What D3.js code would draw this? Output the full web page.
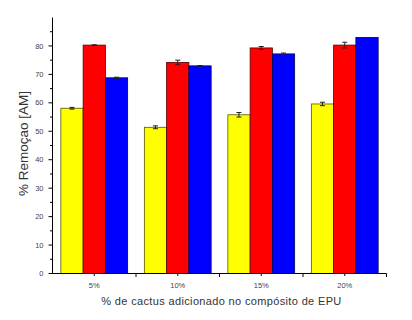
<!DOCTYPE html>
<html>
<head>
<meta charset="utf-8">
<script src="https://cdn.jsdelivr.net/npm/d3@7"></script>
<style>
  body { margin: 0; background: #fff; }
  text { font-family: Arial, "Liberation Sans", sans-serif; }
</style>
</head>
<body>
<svg id="chart" width="412" height="320"></svg>
<script>
const categories = ["5%", "10%", "15%", "20%"];
const seriesNames = ["a", "b", "c"];
const seriesColors = ["#ffff00", "#ff0000", "#0000ff"];
const seriesStroke = ["#555500", "#550000", "#000055"];
// values per category: [yellow, red, blue]
const values = [
    [58.1, 80.3, 68.8],
    [51.4, 74.2, 73.0],
    [55.8, 79.3, 77.2],
    [59.6, 80.3, 83.0]
];
const errors = [
    [0.3, 0.1, 0.2],
    [0.5, 0.8, 0.1],
    [0.8, 0.5, 0.3],
    [0.6, 1.0, 0]
];
const yTicks = [0, 10, 20, 30, 40, 50, 60, 70, 80];

const svg = d3.select("#chart");
const margin = { left: 52.5, right: 25.5, top: 17.5, bottom: 46.5 };
const w = 412 - margin.left - margin.right;
const h = 320 - margin.top - margin.bottom;
const g = svg.append("g").attr("transform", `translate(${margin.left},${margin.top})`);

const y = d3.scaleLinear().domain([0, 90]).range([h, 0]);
const x0 = d3.scaleBand().domain(categories).range([0, w]).paddingInner(0.2).paddingOuter(0.1);
const x1 = d3.scaleBand().domain(seriesNames).range([0, x0.bandwidth()]);
const xc = d3.scaleBand().domain(categories).range([0, w]);

// bars
const rows = values.flatMap((vals, i) => vals.map((v, j) => ({ cat: categories[i], s: j, v, e: errors[i][j] })));
g.selectAll(".bar")
    .data(rows)
    .join("rect")
    .attr("class", "bar")
    .attr("x", d => x0(d.cat) + x1(seriesNames[d.s]))
    .attr("y", d => y(d.v))
    .attr("width", x1.bandwidth())
    .attr("height", d => h - y(d.v))
    .attr("fill", d => seriesColors[d.s])
    .attr("stroke", d => seriesStroke[d.s])
    .attr("stroke-width", 0.8);

// error bars
const eb = g.selectAll(".err").data(rows.filter(d => d.e > 0)).join("g").attr("class", "err")
    .attr("stroke", "#222").attr("stroke-width", 1);
const cx = d => x0(d.cat) + x1(seriesNames[d.s]) + x1.bandwidth() / 2;
eb.append("line").attr("x1", cx).attr("x2", cx).attr("y1", d => y(d.v + d.e)).attr("y2", d => y(d.v - d.e));
eb.append("line").attr("x1", d => cx(d) - 2.5).attr("x2", d => cx(d) + 2.5).attr("y1", d => y(d.v + d.e)).attr("y2", d => y(d.v + d.e));
eb.append("line").attr("x1", d => cx(d) - 2.5).attr("x2", d => cx(d) + 2.5).attr("y1", d => y(d.v - d.e)).attr("y2", d => y(d.v - d.e));

// y axis
const yAxis = g.append("g").attr("class", "y-axis");
yAxis.append("line").attr("x1", 0).attr("x2", 0).attr("y1", y(90)).attr("y2", h).attr("stroke", "#000");
yAxis.selectAll(".major").data(yTicks).join("line")
    .attr("x1", -4).attr("x2", 0).attr("y1", d => y(d)).attr("y2", d => y(d)).attr("stroke", "#000");
yAxis.selectAll(".minor").data(yTicks.map(t => t + 5)).join("line")
    .attr("x1", -2.5).attr("x2", 0).attr("y1", d => y(d)).attr("y2", d => y(d)).attr("stroke", "#000");
yAxis.selectAll("text").data(yTicks).join("text")
    .attr("x", -9).attr("y", d => y(d)).attr("dy", "0.35em")
    .attr("text-anchor", "end").attr("font-size", 7.5).attr("fill", "#444")
    .text(d => d);

// x axis
const xAxis = g.append("g").attr("class", "x-axis").attr("transform", `translate(0,${h})`);
xAxis.append("line").attr("x1", 0).attr("x2", w).attr("stroke", "#000");
xAxis.selectAll(".bound").data(categories).join("line")
    .attr("x1", d => xc(d) + xc.bandwidth()).attr("x2", d => xc(d) + xc.bandwidth())
    .attr("y1", 0).attr("y2", 3.5).attr("stroke", "#000");
xAxis.selectAll(".center").data(categories).join("line")
    .attr("x1", d => xc(d) + xc.bandwidth() / 2).attr("x2", d => xc(d) + xc.bandwidth() / 2)
    .attr("y1", 0).attr("y2", 2.5).attr("stroke", "#000");
xAxis.selectAll("text").data(categories).join("text")
    .attr("x", d => xc(d) + xc.bandwidth() / 2).attr("y", 14.5)
    .attr("text-anchor", "middle").attr("font-size", 7.5).attr("fill", "#444")
    .text(d => d);

// axis titles
svg.append("text")
    .attr("transform", `translate(28,${margin.top + h / 2 - 2}) rotate(-90)`)
    .attr("text-anchor", "middle").attr("font-size", 13.5).attr("fill", "#333")
    .text("% Remoçao [AM]");
svg.append("text")
    .attr("x", margin.left + w / 2 + 2).attr("y", 305)
    .attr("text-anchor", "middle").attr("font-size", 11).attr("fill", "#333")
    .attr("letter-spacing", 0.35)
    .text("% de cactus adicionado no compósito de EPU");
</script>
</body>
</html>
